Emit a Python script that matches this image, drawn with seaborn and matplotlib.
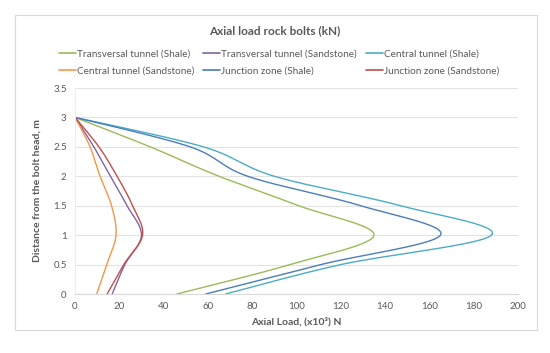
import numpy as np
import pandas as pd
import matplotlib
matplotlib.use("Agg")
import matplotlib.pyplot as plt
import seaborn as sns
from matplotlib.patches import Rectangle
from matplotlib.lines import Line2D

# ---- data ----
distance = [0, 0.5, 1, 1.5, 2, 2.5, 3]
transversal_shale = [46, 97, 135, 101, 65, 34, 0]
transversal_sandstone = [16.8, 22.5, 30, 23.5, 16, 8.5, 0]
central_shale = [68, 120, 188, 147, 90, 58, 0]
central_sandstone = [9.8, 14.3, 18.5, 16.5, 11.3, 6.8, 0]
junction_shale = [59, 111, 165, 129, 78, 52, 0]
junction_sandstone = [14.5, 22, 30.5, 26, 19, 10.8, 0]

series_names = ["Transversal tunnel (Shale)", "Transversal tunnel (Sandstone)",
                "Central tunnel (Shale)", "Central tunnel (Sandstone)",
                "Junction zone (Shale)", "Junction zone (Sandstone)"]
series_values = [transversal_shale, transversal_sandstone, central_shale,
                 central_sandstone, junction_shale, junction_sandstone]
colors = ["#9BBB59", "#8064A2", "#4BACC6", "#F79646", "#4A7EBB", "#C0504D"]
xticks = [0, 20, 40, 60, 80, 100, 120, 140, 160, 180, 200]
yticks = [0, 0.5, 1, 1.5, 2, 2.5, 3, 3.5]


def smooth(xs, ys, sx, sy, n=30):
    """Excel-like smoothed line (cardinal Bezier) computed in screen-scaled space."""
    P = np.column_stack([np.array(xs) * sx, np.array(ys) * sy])
    m = len(P)
    out = []
    for i in range(m - 1):
        p0 = P[max(i - 1, 0)]
        p1 = P[i]
        p2 = P[i + 1]
        p3 = P[min(i + 2, m - 1)]
        c1 = p1 + (p2 - p0) / 6.0
        c2 = p2 - (p3 - p1) / 6.0
        t = np.linspace(0, 1, n, endpoint=(i == m - 2))[:, None]
        b = ((1 - t) ** 3) * p1 + 3 * ((1 - t) ** 2) * t * c1 + 3 * (1 - t) * t ** 2 * c2 + t ** 3 * p2
        out.append(b)
    out = np.vstack(out)
    return out[:, 0] / sx, out[:, 1] / sy


sns.set_style("white")
plt.rcParams['font.family'] = ['Lato', 'DejaVu Sans']

fig = plt.figure(figsize=(5.5, 3.53), dpi=100)
fig.patch.set_facecolor("white")
fig.add_artist(Rectangle((15 / 550, 1 - 330 / 353), (537 - 15) / 550, (330 - 15) / 353,
                         transform=fig.transFigure, fill=False, edgecolor="#D9D9D9", lw=0.8))

ax = fig.add_axes([75 / 550, 1 - 294 / 353, (518 - 75) / 550, (294 - 88) / 353])

sx = 443 / 200.0
sy = 206 / 3.5
rows = []
for name, vals in zip(series_names, series_values):
    xs, ys = smooth(vals, distance, sx, sy)
    for k, (a, b) in enumerate(zip(xs, ys)):
        rows.append({"series": name, "load": a, "distance": b, "order": k})
df = pd.DataFrame(rows)

sns.lineplot(data=df, x="load", y="distance", hue="series", hue_order=series_names,
             palette=colors, sort=False, estimator=None, units="series", lw=1.0, ax=ax,
             legend=False)

ax.set_xlim(0, 200)
ax.set_ylim(0, 3.5)
ax.set_xticks(xticks)
ax.set_yticks(yticks)
ax.set_yticklabels([f"{v:g}" for v in yticks])
ax.grid(axis="y", color="#E3E3E3", lw=0.8)
ax.grid(axis="x", visible=False)
for s in ["top", "right"]:
    ax.spines[s].set_visible(False)
ax.spines["left"].set_color("#EEEEEE")
ax.spines["left"].set_linewidth(0.8)
ax.spines["bottom"].set_color("#D9D9D9")
ax.spines["bottom"].set_linewidth(0.8)
ax.tick_params(axis="both", length=0, labelsize=7, labelcolor="#595959", pad=6)

ax.set_xlabel("Axial Load, (x10\u00b3) N", fontsize=7.5, fontweight="bold", color="#595959", labelpad=4)
ax.set_ylabel("Distance from the bolt head, m", fontsize=7.5, fontweight="bold", color="#595959", labelpad=8)

fig.text(0.5, 1 - 31 / 353, "Axial load rock bolts (kN)", ha="center", va="center",
         fontsize=8.5, fontweight="bold", color="#595959")

handles = [Line2D([], [], color=c, lw=1.2) for c in colors]
order = [0, 3, 1, 4, 2, 5]
leg = fig.legend([handles[i] for i in order], [series_names[i] for i in order],
                 ncol=3, loc="center", bbox_to_anchor=(279 / 550, 1 - 62.5 / 353),
                 frameon=False, fontsize=7.2, handlelength=1.7, handletextpad=0.1,
                 columnspacing=0.9, labelspacing=0.85, labelcolor="#595959")

fig.savefig("out.png", dpi=100)
